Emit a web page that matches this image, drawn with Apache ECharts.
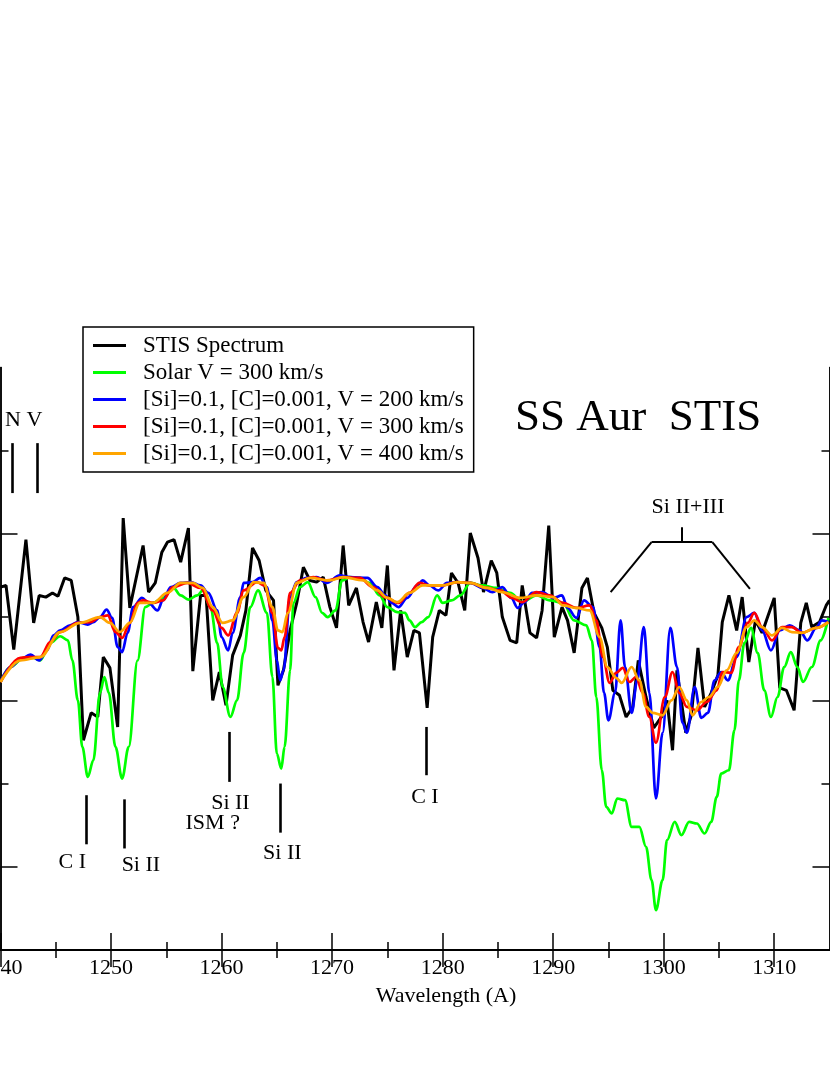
<!DOCTYPE html>
<html><head><meta charset="utf-8">
<script src="https://cdn.jsdelivr.net/npm/echarts@6/dist/echarts.min.js"></script>
<style>html,body{margin:0;padding:0;background:#fff}#c{width:830px;height:1075px}</style>
</head><body><div id="c"></div>
<script>
// ---------- DATA ----------
const seriesNames = ['STIS Spectrum','Solar V = 300 km/s','[Si]=0.1, [C]=0.001, V = 200 km/s','[Si]=0.1, [C]=0.001, V = 300 km/s','[Si]=0.1, [C]=0.001, V = 400 km/s'];

const stisWave = [1240.0,1240.5,1241.2,1242.3,1243.0,1243.5,1244.1,1244.7,1245.2,1245.8,
1246.4,1247.0,1247.5,1248.2,1248.8,1249.3,1249.9,1250.6,1251.1,1251.7,
1252.9,1253.4,1254.0,1254.6,1255.1,1255.7,1256.3,1257.0,1257.4,1258.1,
1258.6,1259.2,1259.8,1260.4,1261.0,1261.7,1262.2,1262.8,1263.4,1264.0,
1264.7,1265.1,1265.6,1266.2,1266.8,1267.4,1268.0,1268.6,1269.2,1269.8,
1270.4,1271.0,1271.5,1272.2,1272.8,1273.3,1274.0,1274.5,1275.0,1275.6,
1276.2,1276.8,1277.4,1277.9,1278.6,1279.1,1279.7,1280.3,1280.8,1281.4,
1282.0,1282.5,1283.2,1283.7,1284.4,1284.9,1285.4,1286.1,1286.7,1287.2,
1287.9,1288.5,1289.0,1289.6,1290.1,1290.8,1291.3,1291.9,1292.6,1293.1,
1293.7,1294.4,1294.9,1295.4,1296.0,1296.6,1297.2,1297.7,1298.4,1299.1,
1299.8,1300.3,1300.8,1301.2,1302.0,1302.5,1303.1,1303.7,1304.3,1304.9,
1305.3,1305.9,1306.6,1307.1,1307.7,1308.3,1308.9,1309.4,1310.0,1310.5,
1311.1,1311.8,1312.4,1312.9,1313.4,1314.1,1314.7,1315.0];
const stisFlux = [4.36,4.38,3.61,4.93,3.93,4.26,4.24,4.29,4.25,4.47,
4.44,4.00,2.52,2.85,2.80,3.52,3.39,2.68,5.19,4.11,
4.86,4.30,4.41,4.78,4.90,4.93,4.66,5.07,3.35,4.26,
4.26,3.00,3.34,2.94,3.54,3.78,4.08,4.83,4.68,4.32,
4.20,3.18,3.36,3.84,4.17,4.60,4.44,4.42,4.48,4.12,
3.87,4.86,4.14,4.35,3.94,3.70,4.18,3.87,4.62,3.36,
4.08,3.52,3.84,3.81,2.91,3.76,4.08,4.02,4.53,4.41,
4.08,5.01,4.71,4.30,4.68,4.53,4.00,3.72,3.69,4.38,
3.81,3.75,4.08,5.10,3.76,4.12,3.96,3.57,4.35,4.47,
4.05,3.87,3.64,3.12,3.06,2.80,2.92,3.48,3.04,2.67,
2.80,3.00,2.40,3.36,2.61,2.82,3.63,2.92,3.09,3.30,
3.94,4.26,3.84,4.24,3.46,3.96,3.81,4.00,4.23,3.15,
3.12,2.88,3.93,4.17,3.88,3.94,4.14,4.20];

const solarWave = [1240.0,1240.9,1242.1,1243.0,1243.6,1244.5,1245.4,1246.1,1246.5,1247.0,
1247.4,1247.9,1248.4,1249.0,1249.4,1249.8,1250.4,1251.0,1251.6,1252.4,
1253.1,1253.8,1254.7,1255.6,1256.3,1257.0,1257.8,1258.3,1259.0,1259.6,
1260.1,1260.8,1261.4,1262.0,1262.6,1263.3,1264.1,1264.6,1265.0,1265.4,
1265.7,1266.2,1266.5,1267.1,1267.8,1268.5,1269.1,1269.6,1270.3,1270.9,
1271.6,1272.5,1273.4,1274.3,1275.0,1275.9,1276.6,1277.0,1277.5,1278.1,
1278.7,1279.5,1280.0,1280.8,1281.6,1282.5,1283.6,1284.9,1286.1,1287.2,
1288.5,1289.7,1290.9,1291.9,1293.0,1293.5,1293.9,1294.4,1294.8,1295.3,
1295.8,1296.5,1297.1,1297.8,1298.4,1298.9,1299.3,1299.9,1300.3,1301.0,
1301.6,1302.3,1303.0,1303.7,1304.3,1304.8,1305.2,1305.9,1306.4,1306.8,
1307.3,1307.9,1308.5,1309.1,1309.7,1310.3,1310.9,1311.5,1312.1,1312.6,
1313.4,1314.2,1314.9];
const solarFlux = [3.22,3.40,3.51,3.51,3.48,3.69,3.77,3.72,3.48,3.00,
2.44,2.08,2.28,3.09,3.28,3.09,2.44,2.06,2.44,3.48,
4.12,4.17,4.23,4.36,4.26,4.21,4.26,4.32,4.12,3.69,
3.16,2.80,3.00,3.57,4.12,4.32,4.05,3.28,2.36,2.18,
2.44,3.36,4.17,4.36,4.42,4.24,4.05,4.00,4.08,4.44,
4.48,4.47,4.41,4.26,4.12,4.06,4.05,3.96,3.88,3.94,
4.00,4.26,4.17,4.20,4.26,4.41,4.38,4.35,4.29,4.18,
4.26,4.20,4.17,3.96,3.90,3.72,3.04,2.16,1.72,1.64,
1.82,1.80,1.48,1.48,1.24,0.84,0.48,0.84,1.32,1.54,
1.38,1.54,1.52,1.40,1.54,1.84,2.12,2.16,2.64,3.24,
3.69,3.87,3.57,3.12,2.80,3.04,3.40,3.58,3.40,3.22,
3.40,3.72,3.99];

const v200Wave = [1240.0,1240.9,1241.8,1242.7,1243.5,1244.2,1244.8,1245.4,1246.3,1247.0,
1247.9,1248.4,1249.0,1249.6,1250.1,1250.6,1251.0,1251.5,1252.0,1252.8,
1253.4,1254.2,1254.7,1255.4,1256.3,1257.2,1258.1,1258.8,1259.6,1260.0,
1260.6,1261.0,1261.7,1262.0,1262.8,1263.5,1264.1,1264.6,1265.0,1265.3,
1265.6,1266.2,1266.8,1267.7,1268.6,1269.5,1270.7,1271.6,1273.2,1274.1,
1274.8,1275.4,1276.0,1276.8,1277.7,1278.2,1278.8,1279.6,1280.4,1281.3,
1282.5,1283.6,1284.5,1285.4,1286.2,1286.8,1287.4,1288.1,1289.0,1290.0,
1290.8,1291.3,1292.1,1292.8,1293.6,1294.2,1294.6,1295.0,1295.6,1296.1,
1296.5,1297.1,1297.6,1298.2,1298.7,1299.3,1299.9,1300.6,1301.2,1301.7,
1302.1,1302.8,1303.4,1304.0,1304.6,1305.2,1305.8,1306.6,1307.5,1308.2,
1308.9,1309.7,1310.5,1311.4,1312.3,1313.0,1313.8,1314.3,1314.9];
const v200Flux = [3.22,3.40,3.49,3.55,3.48,3.60,3.78,3.84,3.90,3.94,
3.91,3.94,4.00,4.09,3.99,3.64,3.58,3.81,4.12,4.23,
4.17,4.08,4.20,4.36,4.41,4.42,4.38,4.29,4.08,3.76,
3.60,3.81,4.24,4.41,4.42,4.47,4.36,3.96,3.48,3.24,
3.36,4.24,4.42,4.47,4.48,4.41,4.50,4.48,4.47,4.36,
4.26,4.17,4.12,4.23,4.38,4.44,4.38,4.32,4.41,4.42,
4.41,4.35,4.30,4.36,4.23,4.11,4.18,4.29,4.30,4.23,
4.26,4.11,3.99,4.20,4.12,3.64,3.09,2.76,3.09,3.96,
3.40,2.85,3.24,3.88,3.09,1.82,2.61,3.87,3.40,2.73,
2.61,3.16,2.79,2.85,3.24,3.34,3.24,3.52,4.00,4.05,
3.84,3.60,3.84,3.90,3.84,3.72,3.87,3.96,3.94];

const v300Wave = [1240.0,1241.8,1242.7,1243.6,1244.5,1245.4,1247.0,1248.1,1249.0,1249.7,
1250.4,1251.0,1251.7,1252.4,1252.9,1253.8,1254.7,1255.6,1256.9,1258.1,
1259.2,1260.0,1260.6,1261.4,1262.0,1263.2,1263.9,1264.6,1265.1,1265.4,
1265.7,1266.2,1267.1,1268.3,1269.5,1271.0,1272.5,1273.7,1274.8,1276.0,
1277.0,1277.9,1278.8,1280.0,1281.3,1282.5,1284.0,1285.2,1286.3,1287.2,
1288.5,1289.7,1290.9,1292.1,1293.3,1293.9,1294.5,1295.1,1295.7,1296.3,
1296.9,1297.5,1298.1,1298.7,1299.3,1300.1,1300.8,1301.4,1302.1,1303.0,
1303.9,1304.8,1305.3,1306.1,1306.8,1307.6,1308.2,1308.9,1309.8,1310.7,
1311.6,1312.5,1313.8,1314.9];
const v300Flux = [3.22,3.51,3.52,3.52,3.70,3.82,3.93,3.94,4.00,4.02,
3.82,3.75,3.93,4.17,4.20,4.17,4.20,4.36,4.41,4.35,
4.08,3.87,3.78,4.05,4.32,4.42,4.38,4.05,3.63,3.60,
3.76,4.29,4.44,4.48,4.44,4.48,4.47,4.36,4.24,4.17,
4.29,4.41,4.38,4.38,4.42,4.41,4.35,4.32,4.23,4.18,
4.30,4.26,4.17,4.11,4.14,3.96,3.52,3.21,3.33,3.39,
3.22,3.28,3.09,2.80,2.49,3.04,3.34,3.09,2.92,2.88,
2.98,3.12,3.34,3.33,3.64,3.93,4.05,3.88,3.72,3.88,
3.88,3.81,3.87,3.94];

const v400Wave = [1240.0,1241.8,1243.6,1245.4,1247.2,1249.0,1249.9,1250.8,1251.7,1252.6,
1253.8,1255.1,1256.3,1257.4,1258.3,1259.2,1260.1,1261.0,1262.0,1262.9,
1263.8,1264.6,1265.1,1265.5,1266.0,1266.8,1268.0,1269.8,1271.0,1272.8,
1274.1,1275.0,1275.9,1277.0,1278.2,1280.0,1281.3,1282.5,1284.0,1285.4,
1287.0,1288.5,1290.0,1290.9,1292.1,1293.3,1294.2,1294.9,1295.7,1296.2,
1297.1,1297.8,1298.4,1299.0,1299.9,1300.7,1301.4,1302.1,1302.6,1303.4,
1304.1,1304.9,1305.7,1306.6,1307.5,1308.2,1308.9,1309.8,1310.7,1311.6,
1312.5,1313.8,1314.9];
const v400Flux = [3.22,3.48,3.52,3.82,3.93,4.00,3.93,3.82,3.93,4.17,
4.17,4.29,4.41,4.41,4.35,4.12,3.93,3.96,4.24,4.42,
4.41,4.12,3.84,3.82,4.05,4.41,4.47,4.44,4.48,4.44,
4.32,4.23,4.18,4.29,4.38,4.38,4.42,4.41,4.35,4.30,
4.23,4.26,4.24,4.14,4.11,4.08,3.76,3.40,3.27,3.21,
3.40,3.24,2.92,2.85,2.82,3.00,3.16,3.00,2.82,2.98,
3.04,3.16,3.36,3.57,3.88,3.96,3.88,3.78,3.87,3.82,
3.81,3.87,3.94];

// axis ticks / labels
const xMajorTicks = [1240,1250,1260,1270,1280,1290,1300,1310];
const xMinorTicks = [1245,1255,1265,1275,1285,1295,1305];
const yMajorTicks = [1,3,5];
const yMinorTicks = [2,4,6];

// line identifications
const annotText = ['N V','C I','Si II','Si II','ISM ?','Si II','C I','Si II+III'];
const annotX    = [1242.1,1246.5,1252.7,1260.8,1259.2,1265.5,1278.4,1302.2];
const annotY    = [6.36,1.06,1.02,1.76,1.52,1.16,1.84,5.32];
// marker segments (x1,y1)-(x2,y2)
const markX1 = [1241.1,1243.3,1247.8,1251.2,1260.7,1265.3,1278.5];
const markY1 = [6.09,6.09,1.86,1.81,2.62,2.00,2.68];
const markX2 = [1241.1,1243.3,1247.8,1251.2,1260.7,1265.3,1278.5];
const markY2 = [5.49,5.49,1.27,1.22,2.02,1.41,2.10];
// bracket for Si II+III
const brX1 = [1295.2,1298.9,1304.4,1301.6];
const brY1 = [4.30,4.90,4.90,4.90];
const brX2 = [1298.9,1304.4,1307.8,1301.6];
const brY2 = [4.90,4.90,4.34,5.08];

// ---------- CHART ----------
const FONT = 'Liberation Serif';
const pairs = (w, f) => w.map((x, i) => [x, f[i]]);
const colors = ['#000000','#00ff00','#0000ff','#ff0000','#ffa500'];
const waves = [stisWave, solarWave, v200Wave, v300Wave, v400Wave];
const fluxes = [stisFlux, solarFlux, v200Flux, v300Flux, v400Flux];

const gridBox = {left: 0.5, top: 367.4, width: 829, height: 582.6, containLabel: false, outerBoundsMode: 'none'};
const axisLine = {show: true, lineStyle: {color: '#000', width: 1.5}};
function xAx(gridIndex, position, ticks, len, labels) {
  return {
    type: 'value', gridIndex, position, min: 1240, max: 1315,
    axisLine, splitLine: {show: false},
    axisTick: {show: true, inside: true, length: len, customValues: ticks, lineStyle: {color: '#000', width: 1.5}},
    axisLabel: labels ? {show: true, customValues: ticks, margin: 7, color: '#000', fontFamily: FONT, fontSize: 22,
      formatter: v => String(v)} : {show: false},
    name: labels ? 'Wavelength (A)' : '', nameLocation: 'middle', nameGap: 35,
    nameTextStyle: {fontFamily: FONT, fontSize: 22, color: '#000', padding: [0, 0, 0, 62]}
  };
}
function yAx(gridIndex, position, ticks, len) {
  return {
    type: 'value', gridIndex, position, min: 0, max: 7,
    axisLine, splitLine: {show: false},
    axisTick: {show: true, inside: true, length: len, customValues: ticks, lineStyle: {color: '#000', width: 1.5}},
    axisLabel: {show: false}
  };
}

const lineSeries = seriesNames.map((name, i) => ({
  name, type: 'line', xAxisIndex: 0, yAxisIndex: 0,
  data: pairs(waves[i], fluxes[i]),
  showSymbol: false, symbol: 'none',
  smooth: i === 0 ? false : 0.35, smoothMonotone: 'x',
  lineStyle: {color: colors[i], width: i === 0 ? 3 : 2.7},
  itemStyle: {color: colors[i]},
  z: 2 + i, animation: false
}));

const markData = markX1.map((x, i) => [{coord: [x, markY1[i]]}, {coord: [markX2[i], markY2[i]]}])
  .concat(brX1.map((x, i) => [{coord: [x, brY1[i]], lineStyle: {width: 2}}, {coord: [brX2[i], brY2[i]]}]));

const annotSeries = {
  type: 'scatter', xAxisIndex: 0, yAxisIndex: 0, z: 10,
  symbol: 'circle', symbolSize: 1, itemStyle: {color: 'rgba(255,255,255,0)'},
  data: annotText.map((t, i) => ({name: t, value: [annotX[i], annotY[i]]})),
  label: {show: true, position: 'inside', formatter: '{b}', color: '#000', opacity: 1,
    textBorderWidth: 0, textBorderColor: 'transparent', fontFamily: FONT, fontSize: 22},
  markLine: {silent: true, symbol: ['none','none'], label: {show: false}, animation: false,
    lineStyle: {color: '#000', width: 2.6, type: 'solid'}, data: markData},
  silent: true, animation: false
};

const option = {
  animation: false,
  backgroundColor: '#fff',
  title: {text: 'SS Aur  STIS', left: 515, top: 396, padding: 0,
    textStyle: {fontFamily: FONT, fontSize: 45, fontWeight: 'normal', color: '#000'}},
  legend: {
    orient: 'vertical', left: 83, top: 327, z: 20,
    backgroundColor: '#fff', borderColor: '#000', borderWidth: 1.5, borderRadius: 0,
    padding: [5, 10, 5, 10], itemGap: 0, itemWidth: 33, itemHeight: 3, icon: 'rect',
    textStyle: {fontFamily: FONT, fontSize: 23, color: '#000', lineHeight: 27, padding: [0, 0, 0, 12]},
    data: seriesNames, selectedMode: false
  },
  grid: [Object.assign({}, gridBox), Object.assign({}, gridBox)],
  xAxis: [
    xAx(0, 'bottom', xMajorTicks, 17, true),
    xAx(0, 'top', xMajorTicks, 17, false),
    xAx(1, 'bottom', xMinorTicks, 8, false),
    xAx(1, 'top', xMinorTicks, 8, false)
  ],
  yAxis: [
    yAx(0, 'left', yMajorTicks, 17),
    yAx(0, 'right', yMajorTicks, 17),
    yAx(1, 'left', yMinorTicks, 8),
    yAx(1, 'right', yMinorTicks, 8)
  ],
  series: lineSeries.concat([annotSeries])
};

const chart = echarts.init(document.getElementById('c'));
chart.setOption(option);
</script></body></html>
